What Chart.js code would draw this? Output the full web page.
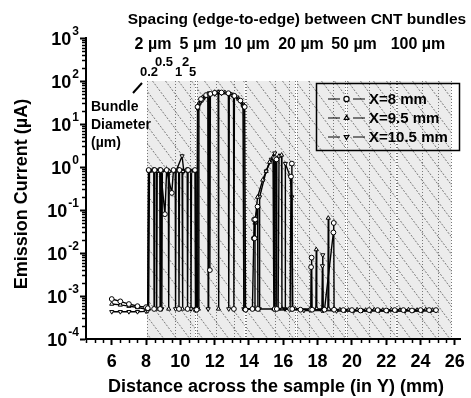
<!doctype html>
<html lang="en">
<head>
<meta charset="UTF-8" />
<title>Emission current across the sample</title>
<script src="https://cdn.jsdelivr.net/npm/chart.js@4.4.1/dist/chart.umd.min.js"></script>
<style>
  body { margin: 0; background: #fff; }
  #wrap { width: 471px; height: 398px; }
</style>
</head>
<body>
<div id="wrap"><canvas id="chart"></canvas></div>
<script>
// X = 8 mm
const x8X = [6.0, 6.5, 7.0, 7.5, 8.0, 8.1,
  8.15, 8.45, 8.47, 8.5, 8.8, 8.82, 8.85, 9.1, 9.2, 9.5, 9.6, 9.9, 9.92, 9.95, 10.4, 10.42, 10.45, 10.85, 10.88, 10.95,
  11.0, 11.2, 11.5, 11.7, 11.72, 11.75, 12.0, 12.4, 12.8, 13.1, 13.12, 13.15, 13.5, 13.75, 13.8,
  14.2, 14.28, 14.3, 14.33, 14.36, 14.5, 14.52, 15.5, 15.52, 15.6, 15.62, 16.4, 16.45, 16.5, 16.52,
  17.0, 17.6, 17.62, 17.65, 17.68, 18.4, 18.92, 18.94, 18.96, 19.5, 20.0, 20.5, 21.0, 21.5, 22.0, 22.5, 23.0, 23.5, 24.0, 24.5, 24.9];
const x8Y = [8.5e-4, 7.5e-4, 6.5e-4, 5.8e-4, 5.5e-4, 5.2e-4,
  0.85, 0.85, 5e-4, 0.85, 0.85, 5e-4, 0.85, 0.08, 0.85, 0.25, 0.85, 0.85, 5e-4, 0.85, 0.85, 5e-4, 0.85, 0.85, 4.8e-4, 4.8e-4,
  25, 38, 47, 50, 0.004, 50, 53, 54, 52, 46, 5e-4, 45, 35, 25, 4.8e-4,
  5e-4, 0.022, 0.06, 0.022, 0.06, 0.12, 5e-4, 5e-4, 1.6, 1.5, 5e-4, 5e-4, 0.6, 1.2, 5e-4,
  4.8e-4, 4.8e-4, 0.0047, 0.0078, 4.8e-4, 4.8e-4, 0.03, 0.05, 4.8e-4, 4.7e-4, 4.7e-4, 4.6e-4, 4.7e-4, 4.7e-4, 4.6e-4, 4.7e-4, 4.7e-4, 4.6e-4, 4.7e-4, 4.7e-4, 4.7e-4];

// X = 9.5 mm
const x95X = [6.0, 6.5, 7.0, 7.5, 8.0, 8.15,
  8.2, 8.6, 8.62, 8.65, 9.3, 9.32, 9.35, 10.1, 10.12, 10.15, 10.9, 10.92, 11.05,
  11.08, 11.3, 11.6, 12.0, 12.2, 12.22, 12.25, 12.6, 13.0, 13.4, 13.7, 13.72,
  14.3, 14.35, 14.5, 14.8, 15.0, 15.2, 15.4, 15.45, 15.7, 15.75, 15.9, 15.92,
  16.7, 17.9, 17.92, 17.95, 18.6, 18.62, 18.65, 19.3, 19.8, 20.3, 20.8, 21.3, 21.8, 22.3, 22.8, 23.3, 23.8, 24.3, 24.7];
const x95Y = [6.5e-4, 6.2e-4, 5.8e-4, 5.4e-4, 5.0e-4, 5.0e-4,
  0.8, 0.8, 5e-4, 0.8, 0.8, 5e-4, 0.8, 0.8, 5e-4, 0.8, 0.8, 5e-4, 5e-4,
  30, 42, 50, 55, 55, 5e-4, 55, 54, 48, 38, 28, 5e-4,
  5e-4, 0.05, 0.2, 0.5, 0.8, 1.3, 1.7, 5e-4, 5e-4, 1.8, 1.9, 5e-4,
  5e-4, 5e-4, 0.012, 5e-4, 5e-4, 0.065, 5e-4, 4.8e-4, 4.7e-4, 4.8e-4, 4.7e-4, 4.8e-4, 4.7e-4, 4.8e-4, 4.7e-4, 4.8e-4, 4.7e-4, 4.8e-4, 4.7e-4];

// X = 10.5 mm
const x105X = [6.0, 6.5, 7.0, 7.5, 8.0, 8.1,
  8.15, 8.9, 8.92, 8.95, 9.7, 9.72, 9.75, 10.1, 10.2, 10.6, 10.62, 10.65, 10.9, 10.95,
  11.0, 11.02, 11.3, 11.6, 11.62, 11.65, 12.0, 12.4, 12.8, 12.82, 12.85, 13.3, 13.65, 13.7,
  14.6, 14.62, 15.0, 15.3, 15.5, 15.52, 16.1, 16.12, 16.4, 16.5, 16.55,
  17.2, 18.25, 18.28, 18.3, 18.33, 19.1, 19.6, 20.1, 20.6, 21.1, 21.6, 22.1, 22.6, 23.1, 23.6, 24.1, 24.6, 24.9];
const x105Y = [4.3e-4, 4.3e-4, 4.3e-4, 4.3e-4, 4.4e-4, 4.5e-4,
  0.8, 0.8, 5e-4, 0.8, 0.8, 5e-4, 0.8, 1.8, 0.8, 0.8, 5e-4, 0.8, 0.8, 5e-4,
  5e-4, 22, 36, 45, 5e-4, 45, 50, 52, 50, 5e-4, 50, 42, 25, 5e-4,
  5e-4, 0.2, 0.8, 1.5, 2.1, 5e-4, 5e-4, 1.2, 0.6, 0.2, 5e-4,
  4.6e-4, 4.6e-4, 0.005, 0.009, 4.6e-4, 4.5e-4, 4.6e-4, 4.5e-4, 4.6e-4, 4.5e-4, 4.6e-4, 4.5e-4, 4.6e-4, 4.5e-4, 4.6e-4, 4.5e-4, 4.6e-4, 4.6e-4];

const seriesNames = ["X=8 mm", "X=9.5 mm", "X=10.5 mm"];
const xTicks = [6, 8, 10, 12, 14, 16, 18, 20, 22, 24, 26];
const yTicks = [1e-4, 1e-3, 1e-2, 1e-1, 1, 10, 100, 1000];

// hatched bands: one per bundle spacing, with dotted lines per bundle diameter
const spacingLabels = ["2 \u00b5m", "5 \u00b5m", "10 \u00b5m", "20 \u00b5m", "50 \u00b5m", "100 \u00b5m"];
const spacingRegions = [[8.05, 10.85], [10.95, 13.75], [13.85, 16.7], [16.8, 19.6], [19.7, 22.55], [22.65, 25.8]];
const bundleLines = [8.05, 9.7, 10.55, 10.85, 10.95, 12.1, 13.1, 13.75, 13.85, 15.5, 16.35, 16.7,
  16.8, 17.5, 18.9, 19.6, 19.7, 21.0, 22.2, 22.55, 22.65, 24.1, 25.0, 25.8];
const hatchTop = 100;

const FONT = '"Liberation Sans", Arial, sans-serif';

function pts(xs, ys) {
  return xs.map((v, i) => ({ x: v, y: ys[i] }));
}

const hatch = {
  id: "hatch",
  beforeDraw(chart) {
    const { ctx, chartArea, scales: { x, y } } = chart;
    const top = y.getPixelForValue(hatchTop);
    const bottom = chartArea.bottom;
    const h = bottom - top;
    ctx.save();
    spacingRegions.forEach(([a, b]) => {
      const l = x.getPixelForValue(a), r = x.getPixelForValue(b);
      ctx.save();
      ctx.beginPath();
      ctx.rect(l, top, r - l, h);
      ctx.clip();
      ctx.fillStyle = "#ececec";
      ctx.fillRect(l, top, r - l, h);
      ctx.strokeStyle = "#5a5a5a";
      ctx.lineWidth = 0.8;
      ctx.setLineDash([2, 1.5]);
      for (let sx = chartArea.left - h * 0.75; sx < r; sx += 13) {
        ctx.beginPath();
        ctx.moveTo(sx, top);
        ctx.lineTo(sx + h * 0.75, bottom);
        ctx.stroke();
      }
      ctx.restore();
    });
    ctx.strokeStyle = "#777";
    ctx.lineWidth = 1;
    ctx.setLineDash([1, 2]);
    bundleLines.forEach(v => {
      const px = Math.round(x.getPixelForValue(v)) + 0.5;
      ctx.beginPath();
      ctx.moveTo(px, top);
      ctx.lineTo(px, bottom);
      ctx.stroke();
    });
    ctx.restore();
  }
};

const extras = {
  id: "extras",
  afterDraw(chart) {
    const { ctx, chartArea, scales: { x, y } } = chart;
    ctx.save();
    ctx.strokeStyle = "#000";
    ctx.lineWidth = 1.5;
    // minor ticks
    for (let e = -4; e < 3; e++) {
      for (let k = 2; k < 10; k++) {
        const py = Math.round(y.getPixelForValue(k * Math.pow(10, e))) + 0.5;
        ctx.beginPath();
        ctx.moveTo(chartArea.left - 4, py);
        ctx.lineTo(chartArea.left, py);
        ctx.stroke();
      }
    }
    for (let v = 4.5; v <= 26; v += 0.5) {
      if (v % 2 === 0) continue;
      const px = Math.round(x.getPixelForValue(v)) + 0.5;
      ctx.beginPath();
      ctx.moveTo(px, chartArea.bottom);
      ctx.lineTo(px, chartArea.bottom + 4);
      ctx.stroke();
    }

    ctx.fillStyle = "#000";
    ctx.textBaseline = "middle";

    // y tick labels as 10 with a raised exponent
    yTicks.forEach(v => {
      const py = y.getPixelForValue(v);
      const exp = String(Math.round(Math.log10(v)));
      ctx.textAlign = "right";
      ctx.font = "bold 12px " + FONT;
      ctx.fillText(exp, 79, py - 6);
      const ew = ctx.measureText(exp).width;
      ctx.font = "bold 18px " + FONT;
      ctx.fillText("10", 79 - ew - 1, py + 2);
    });

    // axis titles
    ctx.textAlign = "center";
    ctx.font = "bold 18px " + FONT;
    ctx.fillText("Distance across the sample (in Y) (mm)", 276, 387);
    ctx.save();
    ctx.translate(22, 194);
    ctx.rotate(-Math.PI / 2);
    ctx.fillText("Emission Current (\u00b5A)", 0, 0);
    ctx.restore();

    // top titles
    ctx.font = "bold 15.5px " + FONT;
    ctx.fillText("Spacing (edge-to-edge) between CNT bundles", 297, 20);
    ctx.font = "bold 16px " + FONT;
    const spacingCenters = [153, 198, 247, 301, 354, 418];
    spacingLabels.forEach((t, i) => ctx.fillText(t, spacingCenters[i], 45));

    // bundle diameters
    ctx.font = "bold 13px " + FONT;
    ctx.textAlign = "left";
    ctx.fillText("0.2", 140, 72);
    ctx.fillText("0.5", 155, 62);
    ctx.fillText("1", 175, 72);
    ctx.fillText("2", 182, 62);
    ctx.fillText("5", 189, 72);
    ctx.lineWidth = 2;
    ctx.beginPath();
    ctx.moveTo(142, 83);
    ctx.lineTo(133, 93);
    ctx.stroke();
    ctx.font = "bold 14px " + FONT;
    ctx.fillText("Bundle", 91, 107);
    ctx.fillText("Diameter", 91, 125);
    ctx.fillText("(\u00b5m)", 91, 143);

    // legend box
    ctx.lineWidth = 1.5;
    ctx.strokeRect(316.5, 83.5, 143, 67);
    ctx.font = "bold 15px " + FONT;
    const legY = [99, 118, 137];
    chart.data.datasets.forEach((ds, i) => {
      ctx.lineWidth = 1.2;
      ctx.strokeStyle = "#000";
      ctx.beginPath();
      ctx.moveTo(328, legY[i]);
      ctx.lineTo(340, legY[i]);
      ctx.moveTo(353, legY[i]);
      ctx.lineTo(365, legY[i]);
      ctx.stroke();
      ctx.fillStyle = "#fff";
      Chart.helpers.drawPoint(ctx, {
        pointStyle: ds.pointStyle, rotation: ds.pointRotation || 0,
        radius: 2.6, borderWidth: 1
      }, 346.5, legY[i]);
      ctx.fillStyle = "#000";
      ctx.fillText(seriesNames[i], 369, legY[i] + 1);
    });
    ctx.restore();
  }
};

const common = {
  showLine: true,
  borderColor: "#000",
  borderWidth: 1.4,
  pointRadius: 2.4,
  pointBorderWidth: 1,
  pointBorderColor: "#000",
  pointBackgroundColor: "#fff",
  tension: 0
};

new Chart(document.getElementById("chart"), {
  type: "scatter",
  data: {
    datasets: [
      { ...common, label: seriesNames[0], data: pts(x8X, x8Y), pointStyle: "circle" },
      { ...common, label: seriesNames[1], data: pts(x95X, x95Y), pointStyle: "triangle" },
      { ...common, label: seriesNames[2], data: pts(x105X, x105Y), pointStyle: "triangle", pointRotation: 180 }
    ]
  },
  options: {
    responsive: true,
    maintainAspectRatio: false,
    animation: false,
    layout: { padding: { top: 38, right: 9, left: 0, bottom: 0 } },
    plugins: { legend: { display: false }, tooltip: { enabled: false } },
    scales: {
      x: {
        type: "linear",
        min: 4.5,
        max: 26.3,
        afterBuildTicks: s => { s.ticks = xTicks.map(v => ({ value: v })); },
        afterFit: s => { s.height = 59; },
        border: { display: true, color: "#000", width: 2 },
        grid: { display: true, drawOnChartArea: false, drawTicks: true, tickLength: 6, tickWidth: 2, tickColor: "#000" },
        ticks: { color: "#000", padding: 6, maxRotation: 0, font: { family: FONT, size: 18, weight: "bold" } }
      },
      y: {
        type: "logarithmic",
        min: 1e-4,
        max: 1e3,
        afterBuildTicks: s => { s.ticks = yTicks.map(v => ({ value: v })); },
        afterFit: s => { s.width = 86; },
        border: { display: true, color: "#000", width: 2 },
        grid: { display: true, drawOnChartArea: false, drawTicks: true, tickLength: 6, tickWidth: 2, tickColor: "#000" },
        ticks: { display: false }
      }
    }
  },
  plugins: [hatch, extras]
});
</script>
</body>
</html>
